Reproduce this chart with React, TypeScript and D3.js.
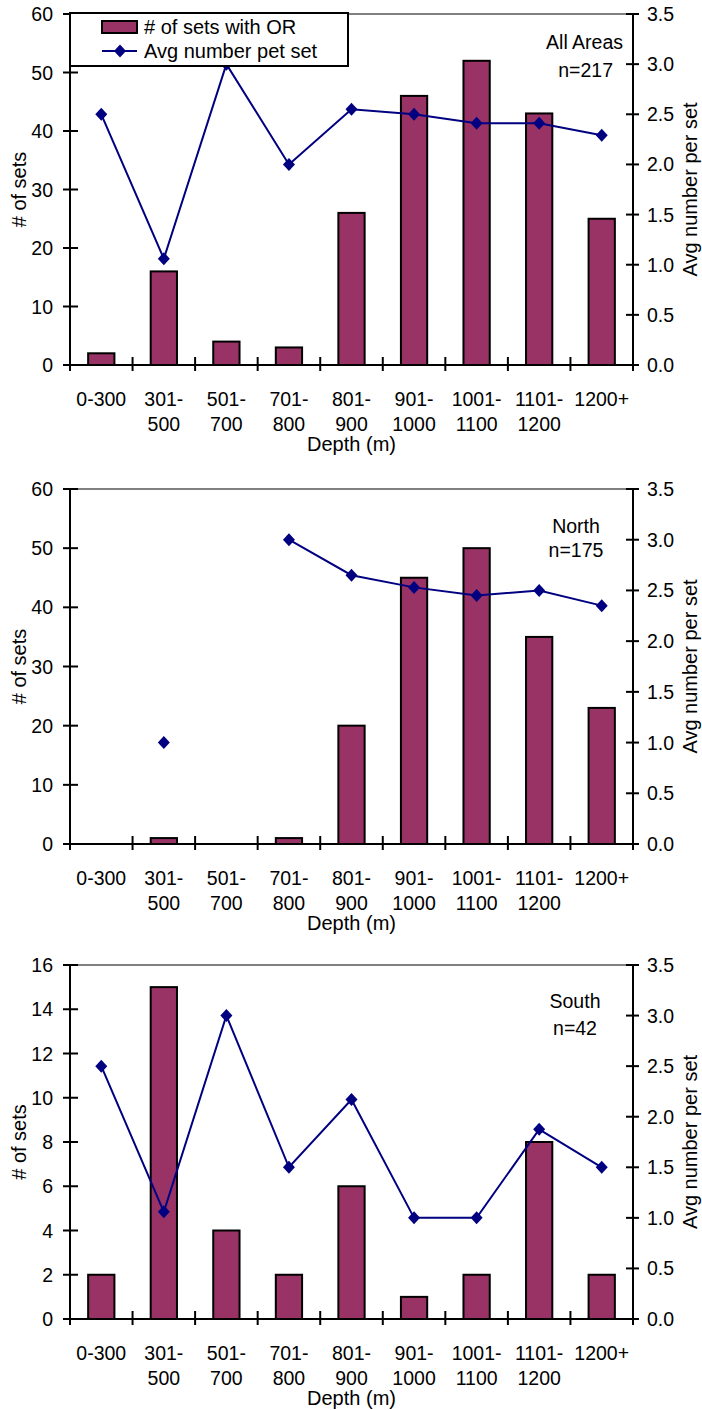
import React from "react";
import * as d3 from "d3";

const categories = ["0-300", "301-\n500", "501-\n700", "701-\n800", "801-\n900", "901-\n1000", "1001-\n1100", "1101-\n1200", "1200+"];

const allSets = [2, 16, 4, 3, 26, 46, 52, 43, 25];
const allAvg: (number | null)[] = [2.5, 1.06, 3.0, 2.0, 2.55, 2.5, 2.41, 2.41, 2.29];

const northSets = [0, 1, 0, 1, 20, 45, 50, 35, 23];
const northAvg: (number | null)[] = [null, 1.0, null, 3.0, 2.65, 2.53, 2.45, 2.5, 2.35];

const southSets = [2, 15, 4, 2, 6, 1, 2, 8, 2];
const southAvg: (number | null)[] = [2.5, 1.06, 3.0, 1.5, 2.17, 1.0, 1.0, 1.875, 1.5];

const leftTicks60 = [0, 10, 20, 30, 40, 50, 60];
const leftTicks16 = [0, 2, 4, 6, 8, 10, 12, 14, 16];
const rightTicks = [0, 0.5, 1.0, 1.5, 2.0, 2.5, 3.0, 3.5];

const legendLabels = ["# of sets with OR", "Avg number pet set"];
const xTitle = "Depth (m)";
const yLeftTitle = "# of sets";
const yRightTitle = "Avg number per set";

const BAR = "#993366";
const LINE = "#000080";
const FONT = "'Liberation Sans', Arial, sans-serif";

const X0 = 70;
const X1 = 633;

interface PanelProps {
  top: number;
  bottom: number;
  sets: number[];
  avg: (number | null)[];
  leftTicks: number[];
  label1: string;
  label2: string;
  labelX: number;
  labelAnchor: "end" | "middle";
  label2X: number;
  labelY1: number;
  labelY2: number;
  legend?: boolean;
}

function Panel(p: PanelProps) {
  const x = d3.scaleBand<string>().domain(categories).range([X0, X1]).paddingInner(0).paddingOuter(0);
  const bw = x.bandwidth();
  const barW = bw * 0.42;
  const yL = d3.scaleLinear().domain([0, d3.max(p.leftTicks) as number]).range([p.bottom, p.top]);
  const yR = d3.scaleLinear().domain([0, 3.5]).range([p.bottom, p.top]);
  const cx = (c: string) => (x(c) as number) + bw / 2;
  const pts = categories.map((c, i) => ({ c, v: p.avg[i] }));
  const line = d3
    .line<{ c: string; v: number | null }>()
    .defined((d) => d.v !== null)
    .x((d) => cx(d.c))
    .y((d) => yR(d.v as number));
  const diamond = "M0,-6.5L6,0L0,6.5L-6,0Z";
  const midY = (p.top + p.bottom) / 2;
  return (
    <g>
      <line x1={X0} x2={X1} y1={p.top} y2={p.top} stroke="#808080" strokeWidth={2} />
      {categories.map((c, i) =>
        p.sets[i] > 0 ? (
          <rect
            key={c}
            x={cx(c) - barW / 2}
            y={yL(p.sets[i])}
            width={barW}
            height={p.bottom - yL(p.sets[i])}
            fill={BAR}
            stroke="#000"
            strokeWidth={2}
          />
        ) : null
      )}
      <path d={line(pts) || ""} fill="none" stroke={LINE} strokeWidth={2} />
      {pts.map((d) =>
        d.v !== null ? (
          <path key={d.c} d={diamond} transform={`translate(${cx(d.c)},${yR(d.v)})`} fill={LINE} />
        ) : null
      )}
      <line x1={X0} x2={X0} y1={p.top - 1} y2={p.bottom + 1} stroke="#000" strokeWidth={2} />
      {p.leftTicks.map((t) => (
        <g key={t}>
          <line x1={X0 - 7} x2={X0 + 8} y1={yL(t)} y2={yL(t)} stroke="#000" strokeWidth={2} />
          <text x={X0 - 17} y={yL(t)} dy="0.36em" textAnchor="end" fontSize={19.5} fontFamily={FONT}>
            {t}
          </text>
        </g>
      ))}
      <line x1={X1} x2={X1} y1={p.top - 1} y2={p.bottom + 1} stroke="#000" strokeWidth={2} />
      {rightTicks.map((t) => (
        <g key={t}>
          <line x1={X1 - 7} x2={X1 + 6} y1={yR(t)} y2={yR(t)} stroke="#000" strokeWidth={2} />
          <text x={X1 + 14} y={yR(t)} dy="0.36em" textAnchor="start" fontSize={19.5} fontFamily={FONT}>
            {d3.format(".1f")(t)}
          </text>
        </g>
      ))}
      <line x1={X0 - 7} x2={X1 + 6} y1={p.bottom} y2={p.bottom} stroke="#000" strokeWidth={2} />
      {categories.map((c) => (
        <line key={"t" + c} x1={x(c) as number} x2={x(c) as number} y1={p.bottom - 8} y2={p.bottom + 6} stroke="#000" strokeWidth={2} />
      ))}
      <line x1={X1} x2={X1} y1={p.bottom - 8} y2={p.bottom + 6} stroke="#000" strokeWidth={2} />
      {categories.map((c) =>
        c.split("\n").map((s, j) => (
          <text key={c + j} x={cx(c)} y={p.bottom + 41 + j * 25} textAnchor="middle" fontSize={19.5} fontFamily={FONT}>
            {s}
          </text>
        ))
      )}
      <text x={(X0 + X1) / 2} y={p.bottom + 86} textAnchor="middle" fontSize={20} fontFamily={FONT}>
        {xTitle}
      </text>
      <text transform={`translate(26,${midY}) rotate(-90)`} textAnchor="middle" fontSize={20} fontFamily={FONT}>
        {yLeftTitle}
      </text>
      <text transform={`translate(697,${midY}) rotate(-90)`} textAnchor="middle" fontSize={20} fontFamily={FONT}>
        {yRightTitle}
      </text>
      <text x={p.labelX} y={p.labelY1} textAnchor={p.labelAnchor} fontSize={19.5} fontFamily={FONT}>
        {p.label1}
      </text>
      <text x={p.label2X} y={p.labelY2} textAnchor={p.labelAnchor} fontSize={19.5} fontFamily={FONT}>
        {p.label2}
      </text>
      {p.legend ? (
        <g>
          <rect x={X0} y={p.top - 1} width={278} height={53} fill="#fff" stroke="#000" strokeWidth={2} />
          <rect x={102} y={p.top + 7} width={35} height={12} fill={BAR} stroke="#000" strokeWidth={2} />
          <text x={144} y={p.top + 20} fontSize={20} fontFamily={FONT}>
            {legendLabels[0]}
          </text>
          <line x1={102} x2={137} y1={p.top + 37} y2={p.top + 37} stroke={LINE} strokeWidth={2} />
          <path d={diamond} transform={`translate(120,${p.top + 37})`} fill={LINE} />
          <text x={144} y={p.top + 44} fontSize={20} fontFamily={FONT}>
            {legendLabels[1]}
          </text>
        </g>
      ) : null}
    </g>
  );
}

export default function App() {
  return (
    <svg width={702} height={1410} style={{ position: "absolute", left: 0, top: 0, background: "#fff" }}>
      <rect x={0} y={0} width={702} height={1410} fill="#fff" />
      <Panel
        top={14}
        bottom={365}
        sets={allSets}
        avg={allAvg}
        leftTicks={leftTicks60}
        label1="All Areas"
        label2="n=217"
        labelX={623}
        label2X={613}
        labelAnchor="end"
        labelY1={49}
        labelY2={77}
        legend
      />
      <Panel
        top={489}
        bottom={844}
        sets={northSets}
        avg={northAvg}
        leftTicks={leftTicks60}
        label1="North"
        label2="n=175"
        labelX={576}
        label2X={576}
        labelAnchor="middle"
        labelY1={533}
        labelY2={557}
      />
      <Panel
        top={965}
        bottom={1319}
        sets={southSets}
        avg={southAvg}
        leftTicks={leftTicks16}
        label1="South"
        label2="n=42"
        labelX={575}
        label2X={575}
        labelAnchor="middle"
        labelY1={1008}
        labelY2={1035}
      />
    </svg>
  );
}
